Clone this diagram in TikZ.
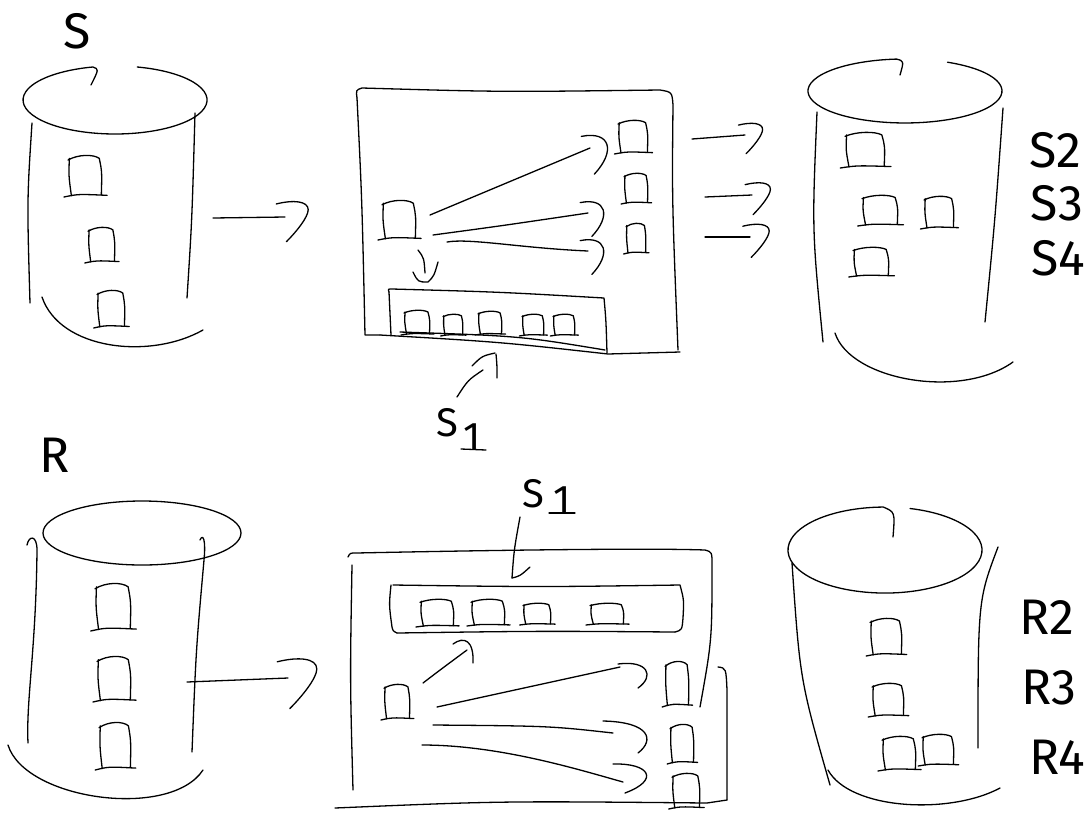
\documentclass[tikz,border=0pt]{standalone}
\usepackage{fontspec}
\newfontfamily\hand{Fira Sans}
\begin{document}
\begin{tikzpicture}[x=1pt,y=-1pt,
  sk/.style={line width=1.3pt, line cap=round, line join=round, black},
  lbl/.style={font=\hand\fontsize{50}{50}\selectfont, inner sep=0pt},
  slbl/.style={font=\hand\fontsize{40}{40}\selectfont, inner sep=0pt},
  rec/.pic={
    \draw[sk] (0.04,0.08) .. controls (0.02,0.5) .. (0.1,0.97);
    \draw[sk] (0,0.12) .. controls (0.3,-0.02) and (0.75,-0.02) .. (0.92,0.08) .. controls (1.0,0.4) .. (0.98,0.95);
    \draw[sk] (-0.12,1.0) .. controls (0.3,0.93) .. (1.15,0.96);
    \coordinate (-c) at (0.5,0.5);},
  hk/.pic={\draw[sk] (-6,-8) .. controls (14,-12) and (18,2) .. (3,18);},
  hkb/.pic={\draw[sk] (-6,-9) .. controls (6,-12) and (16,-11) .. (16,-5) .. controls (16,0) and (8,10) .. (1,17);}
]
\fill[white] (0,0) rectangle (1089,812);
\useasboundingbox (0,0) rectangle (1089,812);

% ===== S cylinder (top left)
\node[lbl] (Slab) at (77,31) {S};
\draw[sk] (137.3,67) arc[start angle=284, end angle=616, x radius=92, y radius=34]
   .. controls (99,69) .. (91,85);
\draw[sk] (32,123) .. controls (27,200) .. (30,303);
\draw[sk] (195,113) .. controls (192,220) .. (187,298);
\draw[sk] (42,297) .. controls (60,350) and (150,360) .. (203,330);
\pic[xscale=34,yscale=42] (s1) at (68,155) {rec};
\pic[xscale=27,yscale=36] (s2) at (88,227) {rec};
\pic[xscale=28,yscale=38] (s3) at (97,290) {rec};
\coordinate (aSa) at (213,218);
\coordinate (aSb) at (285,217);
\draw[sk] (aSa) -- (aSb);
\pic[scale=1.45] at (aSb) {hkb};

% ===== top middle box
\draw[sk] (357,98) .. controls (356,90) .. (362,88) .. controls (500,92) .. (660,90)
   .. controls (672,92) .. (673,105) .. controls (672,200) .. (678,350);
\draw[sk] (357,98) .. controls (362,200) .. (365,335) -- (380,335);
\draw[sk] (380,335) .. controls (500,342) .. (608,354) -- (680,352);
\draw[sk] (400,332) .. controls (520,336) .. (605,350);
% inner buffer
\draw[sk] (389,292) .. controls (388,289) .. (392,289) .. controls (500,292) .. (604,298) .. controls (606,320) .. (607,353);
\draw[sk] (389,292) -- (391,335);
\pic[xscale=26,yscale=25] (b1) at (404,310) {rec};
\pic[xscale=20,yscale=22] (b2) at (443,314) {rec};
\pic[xscale=24,yscale=24] (b3) at (478,311) {rec};
\pic[xscale=22,yscale=22] (b4) at (522,314) {rec};
\pic[xscale=22,yscale=22] (b5) at (553,314) {rec};
% records
\pic[xscale=34,yscale=40] (m0) at (382,200) {rec};
\pic[xscale=30,yscale=34] (m1) at (618,120) {rec};
\pic[xscale=24,yscale=31] (m2) at (624,173) {rec};
\pic[xscale=20,yscale=31] (m3) at (626,223) {rec};
% arrows inside
\coordinate (t1a) at (430,215); \coordinate (t1b) at (590,148);
\coordinate (t2a) at (433,235); \coordinate (t2b) at (588,213);
\coordinate (t3a) at (447,242); \coordinate (t3b) at (588,251);
\draw[sk] (t1a) -- (t1b);
\draw[sk] (t2a) .. controls (500,226) .. (t2b);
\draw[sk] (t3a) .. controls (470,238) and (520,248) .. (t3b);
\pic[scale=1.45] at (t1b) {hk};
\pic[scale=1.3] at (t2b) {hk};
\pic[scale=1.3] at (t3b) {hk};
% down arrow to buffer
\coordinate (dnA) at (418,250); \coordinate (dnB) at (428,282);
\draw[sk] (dnA) .. controls (424,258) .. (425,273);
\draw[sk] (413,272) .. controls (418,282) .. (dnB) .. controls (434,276) .. (438,262);
% S1 label
\node[slbl] (s1lab) at (447,423) {S};
\node[slbl] (s1sub) at (472,437) {1};
\draw[sk] (461,449) -- (486,450);
\coordinate (s1a) at (457,397); \coordinate (s1b) at (495,353);
\draw[sk] (s1a) .. controls (468,380) .. (483,370);
\draw[sk] (472,366) .. controls (482,356) .. (s1b);
\draw[sk] (496,354) .. controls (497,365) .. (497,378);

% ===== arrows to right S cylinder
\coordinate (r1a) at (692,139); \coordinate (r1b) at (745,135);
\coordinate (r2a) at (705,197); \coordinate (r2b) at (752,195);
\coordinate (r3a) at (705,237); \coordinate (r3b) at (750,237);
\draw[sk] (r1a) -- (r1b); \pic[scale=1.1] at (r1b) {hkb};
\draw[sk] (r2a) -- (r2b); \pic[scale=1.15] at (r2b) {hkb};
\draw[sk] (r3a) -- (r3b); \pic[scale=1.2] at (r3b) {hkb};

% ===== right S cylinder
\draw[sk] (947.5,62.2) arc[start angle=296, end angle=625, x radius=97, y radius=32]
   .. controls (904,61) .. (900,75);
\draw[sk] (817,112) .. controls (812,230) .. (823,342);
\draw[sk] (1003,108) .. controls (995,220) .. (985,322);
\draw[sk] (835,333) .. controls (850,380) and (960,400) .. (1013,362);
\pic[xscale=40,yscale=36] (q1) at (845,132) {rec};
\pic[xscale=36,yscale=31] (q2) at (862,195) {rec};
\pic[xscale=30,yscale=33] (q3) at (924,196) {rec};
\pic[xscale=36,yscale=30] (q4) at (853,247) {rec};
\node[lbl] (S2) at (1055,150) {S2};
\node[lbl] (S3) at (1057,203) {S3};
\node[lbl] (S4) at (1058,258) {S4};

% ===== R cylinder (bottom left)
\node[lbl] (Rlab) at (55,455) {R};
\draw[sk] (142,533) ellipse [x radius=99, y radius=32];
\draw[sk] (27,545) .. controls (29,535) and (37,535) .. (37,550) .. controls (36,650) and (26,700) .. (28,743);
\draw[sk] (200,540) .. controls (203,533) and (206,540) .. (204,560) .. controls (196,650) .. (192,752);
\draw[sk] (8,745) .. controls (25,800) and (170,820) .. (203,770);
\pic[xscale=36,yscale=48] (p1) at (95,583) {rec};
\pic[xscale=34,yscale=46] (p2) at (97,656) {rec};
\pic[xscale=32,yscale=48] (p3) at (99,722) {rec};
\coordinate (aRa) at (187,682); \coordinate (aRb) at (288,678);
\draw[sk] (aRa) -- (aRb);
\pic[scale=1.8] at (aRb) {hkb};

% ===== bottom middle box
\node[slbl] (s1lab2) at (533,494) {S};
\node[slbl] (s1sub2) at (562,500) {1};
\draw[sk] (549,513) -- (575,513);
\coordinate (dA) at (520,517); \coordinate (dB) at (512,578);
\draw[sk] (dA) .. controls (514,550) .. (dB);
\draw[sk] (530,567) .. controls (520,576) .. (dB);
% outer
\draw[sk] (348,557) .. controls (350,553) .. (356,553) .. controls (500,550) and (650,548) .. (705,550)
   .. controls (712,552) .. (712,565) .. controls (712,640) .. (700,707);
\draw[sk] (352,565) .. controls (350,680) .. (353,790);
\draw[sk] (335,808) .. controls (500,801) .. (707,803) -- (727,800);
\draw[sk] (718,667) .. controls (726,668) .. (727,690) -- (727,800);
% inner buffer
\draw[sk] (393,585) .. controls (540,587) .. (680,585) .. controls (684,600) .. (683,618) .. controls (682,630) .. (675,632);
\draw[sk] (397,633) .. controls (540,631) .. (675,632);
\draw[sk] (391,585) .. controls (389,605) .. (392,627) .. controls (393,631) .. (397,633);
\pic[xscale=34,yscale=28] (c1) at (420,599) {rec};
\pic[xscale=34,yscale=27] (c2) at (471,599) {rec};
\pic[xscale=28,yscale=22] (c3) at (523,603) {rec};
\pic[xscale=34,yscale=22] (c4) at (590,603) {rec};
% records
\pic[xscale=26,yscale=36] (n0) at (384,684) {rec};
\pic[xscale=24,yscale=46] (n1) at (665,661) {rec};
\pic[xscale=24,yscale=40] (n2) at (670,724) {rec};
\pic[xscale=28,yscale=36] (n3) at (672,773) {rec};
% up arrow
\coordinate (uA) at (423,683); \coordinate (uB) at (467,650);
\draw[sk] (uA) .. controls (440,670) .. (uB);
\draw[sk] (453,644) .. controls (464,636) and (474,640) .. (473,663);
% right arrows
\coordinate (c1a) at (437,707); \coordinate (c1b) at (620,667);
\coordinate (c2a) at (433,725); \coordinate (c2b) at (613,733);
\coordinate (c3a) at (422,745); \coordinate (c3b) at (623,782);
\draw[sk] (c1a) -- (c1b);
\draw[sk] (618,664) .. controls (648,660) and (655,676) .. (638,688);
\draw[sk] (c2a) .. controls (550,726) .. (c2b);
\draw[sk] (603,721) .. controls (650,722) and (655,740) .. (638,753);
\draw[sk] (c3a) .. controls (500,745) and (580,770) .. (c3b);
\draw[sk] (613,764) .. controls (650,763) and (660,780) .. (625,793);

% ===== right R cylinder
\draw[sk] (910.1,508.5) arc[start angle=285, end angle=629, x radius=97, y radius=43]
   .. controls (895,512) .. (893,537);
\draw[sk] (792,563) .. controls (800,680) .. (830,785);
\draw[sk] (998,547) .. controls (978,600) .. (978,748);
\draw[sk] (828,770) .. controls (850,810) and (950,815) .. (1000,788);
\pic[xscale=32,yscale=38] (o1) at (870,618) {rec};
\pic[xscale=32,yscale=34] (o2) at (872,683) {rec};
\pic[xscale=34,yscale=35] (o3) at (882,736) {rec};
\pic[xscale=32,yscale=32] (o4) at (922,734) {rec};
\node[lbl] (R2) at (1047,617) {R2};
\node[lbl] (R3) at (1049,688) {R3};
\node[lbl] (R4) at (1057,757) {R4};
\end{tikzpicture}
\end{document}
